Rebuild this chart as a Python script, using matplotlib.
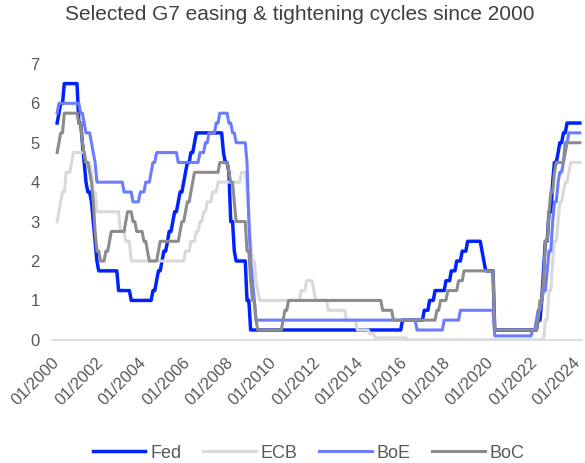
import numpy as np
import pandas as pd
import matplotlib.pyplot as plt
import matplotlib.dates as mdates
import matplotlib.transforms as mtransforms

plt.rcParams['font.family'] = ['Liberation Sans', 'DejaVu Sans']

# Policy rate decisions (date of change, new rate in %)
fed_dates = ['1999-11-16', '2000-02-02', '2000-03-21', '2000-05-16', '2001-01-03', '2001-01-31',
             '2001-03-20', '2001-04-18', '2001-05-15', '2001-06-27', '2001-08-21', '2001-09-17',
             '2001-10-02', '2001-11-06', '2001-12-11', '2002-11-06', '2003-06-25', '2004-06-30',
             '2004-08-10', '2004-09-21', '2004-11-10', '2004-12-14', '2005-02-02', '2005-03-22',
             '2005-05-03', '2005-06-30', '2005-08-09', '2005-09-20', '2005-11-01', '2005-12-13',
             '2006-01-31', '2006-03-28', '2006-05-10', '2006-06-29', '2007-09-18', '2007-10-31',
             '2007-12-11', '2008-01-22', '2008-01-30', '2008-03-18', '2008-04-30', '2008-10-08',
             '2008-10-29', '2008-12-16', '2015-12-16', '2016-12-14', '2017-03-15', '2017-06-14',
             '2017-12-13', '2018-03-21', '2018-06-13', '2018-09-26', '2018-12-19', '2019-08-01',
             '2019-09-18', '2019-10-30', '2020-03-03', '2020-03-15', '2022-03-16', '2022-05-04',
             '2022-06-15', '2022-07-27', '2022-09-21', '2022-11-02', '2022-12-14', '2023-02-01',
             '2023-03-22', '2023-05-03', '2023-07-26']
fed_rates = [5.50, 5.75, 6.00, 6.50, 6.00, 5.50, 5.00, 4.50, 4.00, 3.75, 3.50, 3.00, 2.50, 2.00,
             1.75, 1.25, 1.00, 1.25, 1.50, 1.75, 2.00, 2.25, 2.50, 2.75, 3.00, 3.25, 3.50, 3.75,
             4.00, 4.25, 4.50, 4.75, 5.00, 5.25, 4.75, 4.50, 4.25, 3.50, 3.00, 2.25, 2.00, 1.50,
             1.00, 0.25, 0.50, 0.75, 1.00, 1.25, 1.50, 1.75, 2.00, 2.25, 2.50, 2.25, 2.00, 1.75,
             1.25, 0.25, 0.50, 1.00, 1.75, 2.50, 3.25, 4.00, 4.50, 4.75, 5.00, 5.25, 5.50]

ecb_dates = ['1999-11-05', '2000-02-04', '2000-03-17', '2000-04-28', '2000-06-09', '2000-09-01',
             '2000-10-06', '2001-05-11', '2001-08-31', '2001-09-18', '2001-11-09', '2002-12-06',
             '2003-03-07', '2003-06-06', '2005-12-06', '2006-03-08', '2006-06-15', '2006-08-09',
             '2006-10-11', '2006-12-13', '2007-03-14', '2007-06-13', '2008-07-09', '2008-10-15',
             '2008-11-12', '2008-12-10', '2009-01-21', '2009-03-11', '2009-04-08', '2009-05-13',
             '2011-04-13', '2011-07-13', '2011-11-09', '2011-12-14', '2012-07-11', '2013-05-08',
             '2013-11-13', '2014-06-11', '2014-09-10', '2016-03-16', '2022-07-27', '2022-09-14',
             '2022-11-02', '2022-12-21', '2023-02-08', '2023-03-22', '2023-05-10', '2023-06-21',
             '2023-08-02', '2023-09-20']
ecb_rates = [3.00, 3.25, 3.50, 3.75, 4.25, 4.50, 4.75, 4.50, 4.25, 3.75, 3.25, 2.75, 2.50, 2.00,
             2.25, 2.50, 2.75, 3.00, 3.25, 3.50, 3.75, 4.00, 4.25, 3.75, 3.25, 2.50, 2.00, 1.50,
             1.25, 1.00, 1.25, 1.50, 1.25, 1.00, 0.75, 0.50, 0.25, 0.15, 0.05, 0.00, 0.50, 1.25,
             2.00, 2.50, 3.00, 3.50, 3.75, 4.00, 4.25, 4.50]

boe_dates = ['2000-01-13', '2000-02-10', '2001-02-08', '2001-04-05', '2001-05-10', '2001-08-02',
             '2001-09-18', '2001-10-04', '2001-11-08', '2003-02-06', '2003-07-10', '2003-11-06',
             '2004-02-05', '2004-05-06', '2004-06-10', '2004-08-05', '2005-08-04', '2006-08-03',
             '2006-11-09', '2007-01-11', '2007-05-10', '2007-07-05', '2007-12-06', '2008-02-07',
             '2008-04-10', '2008-10-08', '2008-11-06', '2008-12-04', '2009-01-08', '2009-02-05',
             '2009-03-05', '2016-08-04', '2017-11-02', '2018-08-02', '2020-03-11', '2020-03-19',
             '2021-12-16', '2022-02-03', '2022-03-17', '2022-05-05', '2022-06-16', '2022-08-04',
             '2022-09-22', '2022-11-03', '2022-12-15', '2023-02-02', '2023-03-23', '2023-05-11',
             '2023-06-22', '2023-08-03']
boe_rates = [5.75, 6.00, 5.75, 5.50, 5.25, 5.00, 4.75, 4.50, 4.00, 3.75, 3.50, 3.75, 4.00, 4.25,
             4.50, 4.75, 4.50, 4.75, 5.00, 5.25, 5.50, 5.75, 5.50, 5.25, 5.00, 4.50, 3.00, 2.00,
             1.50, 1.00, 0.50, 0.25, 0.50, 0.75, 0.25, 0.10, 0.25, 0.50, 0.75, 1.00, 1.25, 1.75,
             2.25, 3.00, 3.50, 4.00, 4.25, 4.50, 5.00, 5.25]

boc_dates = ['1999-11-17', '2000-02-03', '2000-03-22', '2000-05-17', '2001-01-23', '2001-03-06',
             '2001-04-17', '2001-05-29', '2001-07-17', '2001-08-28', '2001-09-17', '2001-10-23',
             '2001-11-27', '2002-01-15', '2002-04-16', '2002-06-04', '2002-07-16', '2003-03-04',
             '2003-04-15', '2003-07-15', '2003-09-03', '2004-01-20', '2004-03-02', '2004-04-13',
             '2004-09-08', '2004-10-19', '2005-09-07', '2005-10-18', '2005-12-06', '2006-01-24',
             '2006-03-07', '2006-04-25', '2006-05-24', '2007-07-10', '2007-12-04', '2008-01-22',
             '2008-03-04', '2008-04-22', '2008-10-08', '2008-10-21', '2008-12-09', '2009-01-20',
             '2009-03-03', '2009-04-21', '2010-06-01', '2010-07-20', '2010-09-08', '2015-01-21',
             '2015-07-15', '2017-07-12', '2017-09-06', '2018-01-17', '2018-07-11', '2018-10-24',
             '2020-03-04', '2020-03-13', '2020-03-27', '2022-03-02', '2022-04-13', '2022-06-01',
             '2022-07-13', '2022-09-07', '2022-10-26', '2022-12-07', '2023-01-25', '2023-06-07',
             '2023-07-12']
boc_rates = [4.75, 5.00, 5.25, 5.75, 5.50, 5.00, 4.75, 4.50, 4.25, 4.00, 3.50, 2.75, 2.25, 2.00,
             2.25, 2.50, 2.75, 3.00, 3.25, 3.00, 2.75, 2.50, 2.25, 2.00, 2.25, 2.50, 2.75, 3.00,
             3.25, 3.50, 3.75, 4.00, 4.25, 4.50, 4.25, 4.00, 3.50, 3.00, 2.50, 2.25, 1.50, 1.00,
             0.50, 0.25, 0.50, 0.75, 1.00, 0.75, 0.50, 0.75, 1.00, 1.25, 1.50, 1.75, 1.25, 0.75,
             0.25, 0.50, 1.00, 1.50, 2.50, 3.25, 3.75, 4.25, 4.50, 4.75, 5.00]

names = ['Fed', 'ECB', 'BoE', 'BoC']
colors = ['#0022FF', '#D9D9D9', '#6B7CFF', '#8C8C8C']
widths = [2.5, 2.2, 2.2, 2.2]

# month-end observations of each policy rate
months = pd.date_range('2000-01-31', '2024-02-29', freq='ME')
def monthly(dates, rates):
    s = pd.Series(rates, index=pd.to_datetime(dates))
    return s.reindex(s.index.union(months)).ffill().loc[months]

series = [monthly(fed_dates, fed_rates), monthly(ecb_dates, ecb_rates),
          monthly(boe_dates, boe_rates), monthly(boc_dates, boc_rates)]
# plot at the start of each month
x = months - pd.offsets.MonthBegin(1)

fig = plt.figure(figsize=(5.85, 4.63), dpi=100)
ax = fig.add_axes([0.089, 0.266, 0.906, 0.596])

for s, n, c, w in zip(series, names, colors, widths):
    ax.plot(x, s.values, color=c, lw=w, label=n, solid_joinstyle='round')

ax.set_ylim(0, 7)
ax.set_yticks(range(0, 8))
ax.set_xlim(pd.Timestamp('1999-10-08'), pd.Timestamp('2024-03-10'))
ax.set_xticks(pd.date_range('2000-01-01', '2024-01-01', freq='24MS'))
ax.xaxis.set_major_formatter(mdates.DateFormatter('%m/%Y'))

for sp in ['top', 'right', 'left']:
    ax.spines[sp].set_visible(False)
ax.spines['bottom'].set_color('#D9D9D9')
ax.spines['bottom'].set_linewidth(1.2)
ax.tick_params(length=0, colors='#595959')
ax.tick_params(axis='y', pad=9, labelsize=12)
ax.tick_params(axis='x', pad=12, labelsize=12)
# nudge the rotated date labels down a little, like the original
shift = mtransforms.ScaledTranslation(0, -4 / 100, fig.dpi_scale_trans)
for lab in ax.get_xticklabels():
    lab.set_rotation(45)
    lab.set_ha('right')
    lab.set_va('center')
    lab.set_rotation_mode('anchor')
    lab.set_transform(lab.get_transform() + shift)

fig.suptitle('Selected G7 easing & tightening cycles since 2000', x=0.513, y=0.99,
             fontsize=15, color='#404040')

fig.legend(loc='center', bbox_to_anchor=(0.528, 0.021), ncol=4, frameon=False, fontsize=13,
           handlelength=2.9, handletextpad=0.28, columnspacing=1.2, labelcolor='#595959')

fig.savefig('out.png', dpi=100)
